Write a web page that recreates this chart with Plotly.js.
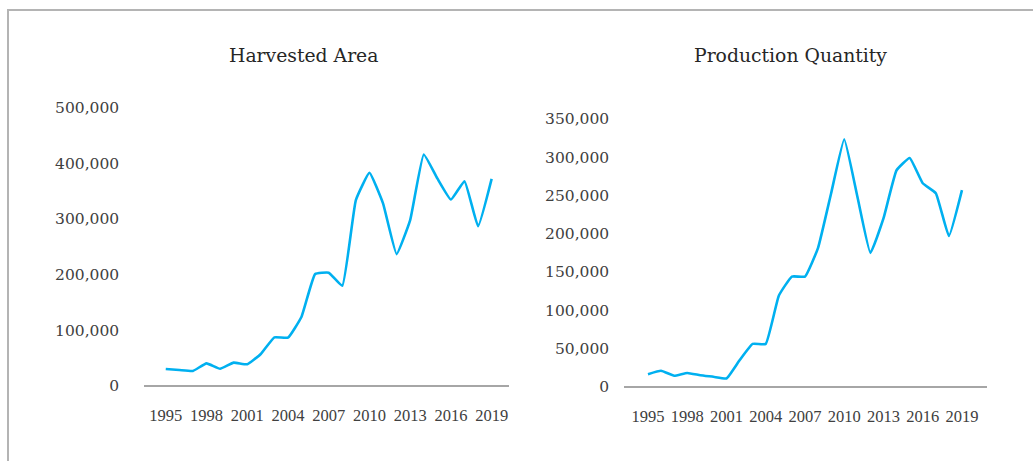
<!DOCTYPE html>
<html>
<head>
<meta charset="utf-8">
<script src="https://cdn.plot.ly/plotly-3.0.1.min.js"></script>
<style>
  html, body { margin: 0; padding: 0; background: #ffffff; }
  #wrap { position: relative; width: 1033px; height: 461px; overflow: hidden; }
  #frame { position: absolute; left: 7px; top: 9px; width: 1040px; height: 470px;
           border-top: 2px solid #b4b4b4; border-left: 2px solid #b4b4b4; box-sizing: border-box; }
  #chart { position: absolute; left: 0; top: 0; width: 1033px; height: 461px; }
</style>
</head>
<body>
<div id="wrap">
  <div id="chart"></div>
  <div id="frame"></div>
</div>
<script>
// Data
const years = [1995,1996,1997,1998,1999,2000,2001,2002,2003,2004,2005,2006,2007,2008,2009,2010,2011,2012,2013,2014,2015,2016,2017,2018,2019];
const harvestedArea = [30500,28700,27000,40700,31000,42000,39000,57500,87400,86800,124500,201000,203600,180000,334000,383000,328000,237000,298000,416000,373000,335000,368000,287000,372000];
const productionQuantity = [16400,20800,14300,18000,15000,13000,10800,34600,56000,56000,119000,144000,144000,181600,253000,323500,249000,175000,220000,283000,299000,266000,253000,197000,257000];
const xTickVals = [1995,1998,2001,2004,2007,2010,2013,2016,2019];
const titles = ["Harvested Area", "Production Quantity"];

const W = 1033, H = 461;
const fx = px => px / W;
const fy = py => 1 - py / H;

const lineColor = '#00B0F0';
const tickFont = {family: 'DejaVu Serif, Liberation Serif, serif', size: 15.5, color: '#404040'};
const xTickFont = {family: 'Liberation Serif, DejaVu Serif, serif', size: 16.5, color: '#404040'};

const traces = [
  {x: years, y: harvestedArea, xaxis: 'x', yaxis: 'y', type: 'scatter', mode: 'lines',
   line: {color: lineColor, width: 2.6, shape: 'spline', smoothing: 0.35}, hoverinfo: 'x+y'},
  {x: years, y: productionQuantity, xaxis: 'x2', yaxis: 'y2', type: 'scatter', mode: 'lines',
   line: {color: lineColor, width: 2.6, shape: 'spline', smoothing: 0.35}, hoverinfo: 'x+y'}
];

function xAxis(d0, d1, r0, r1, anchor) {
  return {
    domain: [fx(d0), fx(d1)], range: [r0, r1], anchor: anchor,
    tickmode: 'array', tickvals: xTickVals, ticktext: xTickVals.map(String),
    showgrid: false, zeroline: false, showline: false,
    ticks: 'outside', ticklen: 14, tickcolor: 'rgba(0,0,0,0)',
    tickfont: xTickFont, fixedrange: true
  };
}
function yAxis(d0, d1, r1, dtick, anchor, standoff) {
  return {
    domain: [fy(d0), fy(d1)], range: [0, r1], anchor: anchor,
    dtick: dtick, tickformat: ',d', showgrid: false,
    zeroline: true, zerolinecolor: '#a6a6a6', zerolinewidth: 2,
    showline: false, ticks: 'outside', ticklen: standoff, tickcolor: 'rgba(0,0,0,0)',
    tickfont: tickFont, fixedrange: true
  };
}

const layout = {
  width: W, height: H,
  margin: {l: 0, r: 0, t: 0, b: 0},
  paper_bgcolor: '#ffffff', plot_bgcolor: 'rgba(0,0,0,0)',
  showlegend: false,
  xaxis: xAxis(144.3, 509.3, 1993.42, 2020.3, 'y'),
  yaxis: yAxis(386, 107.7, 500000, 100000, 'x', 21),
  xaxis2: xAxis(624.3, 986.7, 1993.19, 2020.89, 'y2'),
  yaxis2: yAxis(386.7, 119, 350000, 50000, 'x2', 11),
  annotations: [
    {text: titles[0], xref: 'paper', yref: 'paper', x: fx(303.5), y: fy(56), xanchor: 'center', yanchor: 'middle',
     showarrow: false, font: {family: 'DejaVu Serif, Liberation Serif, serif', size: 18.8, color: '#262626'}},
    {text: titles[1], xref: 'paper', yref: 'paper', x: fx(790), y: fy(56), xanchor: 'center', yanchor: 'middle',
     showarrow: false, font: {family: 'DejaVu Serif, Liberation Serif, serif', size: 18.8, color: '#262626'}}
  ]
};

Plotly.newPlot('chart', traces, layout, {displayModeBar: false, staticPlot: true});
</script>
</body>
</html>
